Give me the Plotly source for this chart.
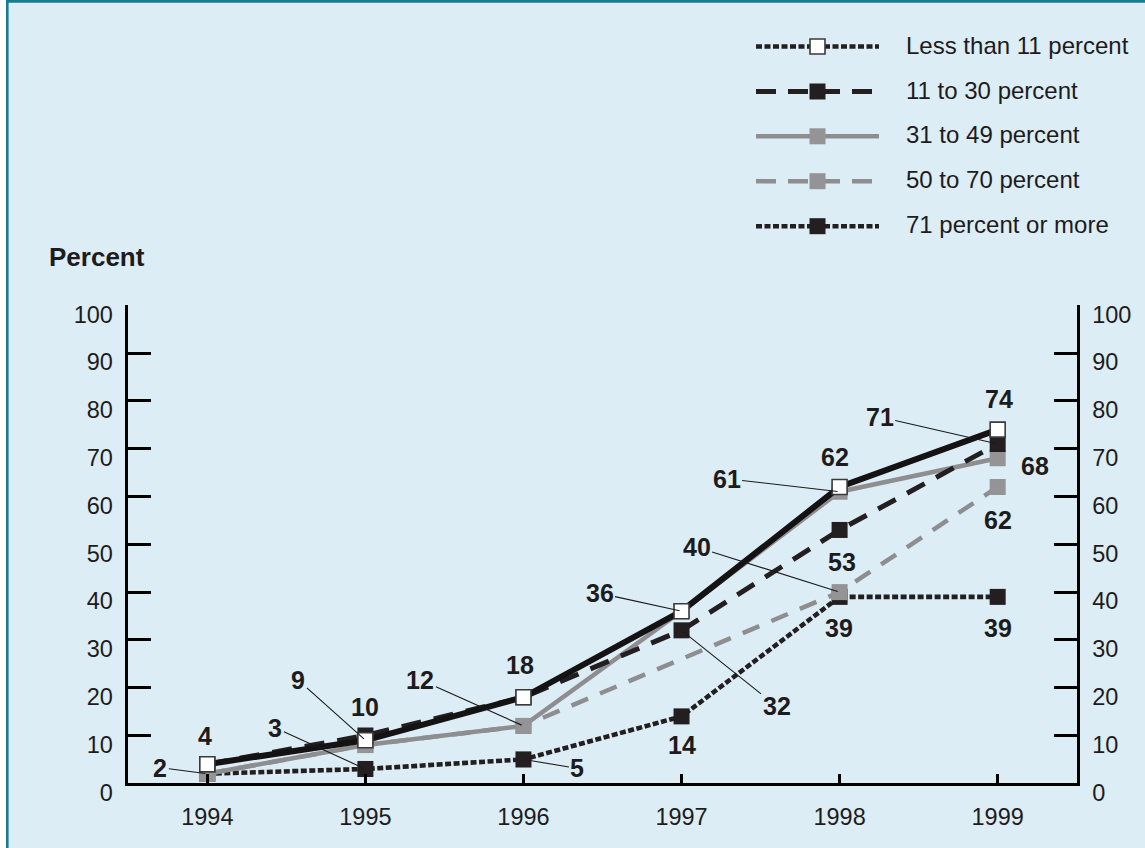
import plotly.graph_objects as go

# ---------------- data ----------------
years = [1994, 1995, 1996, 1997, 1998, 1999]
year_labels = ["1994", "1995", "1996", "1997", "1998", "1999"]
lt11 = [4, 9, 18, 36, 62, 74]            # Less than 11 percent
p11_30 = [4, 10, 18, 32, 53, 71]         # 11 to 30 percent
p31_49 = [2, 8, 12, 36, 61, 68]          # 31 to 49 percent
p50_70 = [2, 8, 12, None, 40, 62]        # 50 to 70 percent
p71_up = [2, 3, 5, 14, 39, 39]           # 71 percent or more
series_names = ["Less than 11 percent", "11 to 30 percent", "31 to 49 percent",
                "50 to 70 percent", "71 percent or more"]
y_tick_values = [0, 10, 20, 30, 40, 50, 60, 70, 80, 90, 100]
y_tick_labels = ["0", "10", "20", "30", "40", "50", "60", "70", "80", "90", "100"]

# ---------------- styles ----------------
W, H = 1145, 848
FONT = "Liberation Sans, Arial, Helvetica, sans-serif"
INK = "#1e1b1c"
BLACK = "#141213"
SQ_BLACK = "#231f20"
GREY_LINE = "#8e8e90"
GREY_SQ = "#949496"
BG = "#dcedf6"
TEAL = "#177c91"

styles = {
    "Less than 11 percent": dict(color=BLACK, width=6, dash="solid", mfill="white", mline=1.6),
    "11 to 30 percent": dict(color=SQ_BLACK, width=5, dash="20px,13px", mfill=SQ_BLACK, mline=0),
    "31 to 49 percent": dict(color=GREY_LINE, width=4.5, dash="solid", mfill=GREY_SQ, mline=0),
    "50 to 70 percent": dict(color=GREY_LINE, width=4.5, dash="18px,13px", mfill=GREY_SQ, mline=0),
    "71 percent or more": dict(color=SQ_BLACK, width=4.6, dash="6px,2.5px", mfill=SQ_BLACK, mline=0),
}
legend_styles = {
    "Less than 11 percent": dict(color=SQ_BLACK, width=4.6, dash="6px,2.5px", mfill="white", mline=1.6),
    "11 to 30 percent": dict(color=SQ_BLACK, width=5, dash="20px,12px", mfill=SQ_BLACK, mline=0),
    "31 to 49 percent": dict(color=GREY_LINE, width=4.5, dash="solid", mfill=GREY_SQ, mline=0),
    "50 to 70 percent": dict(color=GREY_LINE, width=4.5, dash="20px,12px", mfill=GREY_SQ, mline=0),
    "71 percent or more": dict(color=SQ_BLACK, width=4.6, dash="6px,2.5px", mfill=SQ_BLACK, mline=0),
}

# plot geometry in pixels
PX_L, PX_R = 128.3, 1076.7
PY_T, PY_B = 305.3, 783.3

fig = go.Figure()

series_data = {
    "Less than 11 percent": lt11,
    "11 to 30 percent": p11_30,
    "31 to 49 percent": p31_49,
    "50 to 70 percent": p50_70,
    "71 percent or more": p71_up,
}
draw_order = ["71 percent or more", "50 to 70 percent", "31 to 49 percent",
              "11 to 30 percent", "Less than 11 percent"]
for name in draw_order:
    s = styles[name]
    fig.add_trace(go.Scatter(
        x=years, y=series_data[name], name=name, mode="lines+markers",
        connectgaps=True, showlegend=False,
        line=dict(color=s["color"], width=s["width"], dash=s["dash"]),
        marker=dict(symbol="square", size=16 if s["mline"] == 0 else 15, color=s["mfill"],
                    line=dict(color="#3a3a3a", width=s["mline"])),
        xaxis="x", yaxis="y", hoverinfo="skip",
    ))

# invisible trace so that the right-hand axis is drawn
fig.add_trace(go.Scatter(x=years, y=lt11, mode="lines", opacity=0,
                         line=dict(width=0), xaxis="x", yaxis="y2",
                         showlegend=False, hoverinfo="skip"))

# ---------------- custom legend (pixel axes) ----------------
legend_rows_y = [46.5, 91.5, 136.3, 181.2, 226.2]
LEG_X0, LEG_XM, LEG_X1 = 756, 817.5, 879
for name, ry in zip(series_names, legend_rows_y):
    s = legend_styles[name]
    fig.add_trace(go.Scatter(
        x=[LEG_X0, LEG_XM, LEG_X1], y=[ry, ry, ry], mode="lines",
        line=dict(color=s["color"], width=s["width"], dash=s["dash"]),
        xaxis="x3", yaxis="y3", showlegend=False, hoverinfo="skip",
    ))
    fig.add_trace(go.Scatter(
        x=[LEG_XM], y=[ry], mode="markers",
        marker=dict(symbol="square", size=16 if s["mline"] == 0 else 15, color=s["mfill"],
                    line=dict(color="#3a3a3a", width=s["mline"])),
        xaxis="x3", yaxis="y3", showlegend=False, hoverinfo="skip",
    ))
    fig.add_annotation(x=904, y=ry - 1.5, xref="x3", yref="y3", text=name,
                       showarrow=False, xanchor="left", yanchor="middle",
                       font=dict(family=FONT, size=24, color=INK))

# ---------------- value labels ----------------
# (series, year index, dx, dy (screen px, down positive), leader line)
label_specs = [
    ("Less than 11 percent", 0, -2, -28, False),
    ("50 to 70 percent", 0, -47, -6, True),
    ("Less than 11 percent", 1, -67, -60, True),
    ("11 to 30 percent", 1, 0, -29, False),
    ("71 percent or more", 1, -90, -41, True),
    ("31 to 49 percent", 2, -103, -46, True),
    ("Less than 11 percent", 2, -3, -32, False),
    ("71 percent or more", 2, 54, 9, True),
    ("Less than 11 percent", 3, -82, -18, True),
    ("11 to 30 percent", 3, 95, 76, True),
    ("71 percent or more", 3, 0, 29, False),
    ("50 to 70 percent", 4, -143, -45, True),
    ("31 to 49 percent", 4, -113, -13, True),
    ("Less than 11 percent", 4, -5, -30, False),
    ("11 to 30 percent", 4, 2, 32, False),
    ("71 percent or more", 4, -1, 31, False),
    ("11 to 30 percent", 5, -118, -27, True),
    ("Less than 11 percent", 5, 1, -31, False),
    ("31 to 49 percent", 5, 37, 8, False),
    ("50 to 70 percent", 5, 0, 33, False),
    ("71 percent or more", 5, 0, 31, False),
]
label_font = dict(family=FONT, size=25, color=INK, weight="bold")
for name, i, dx, dy, leader in label_specs:
    v = series_data[name][i]
    if leader:
        fig.add_annotation(x=years[i], y=v, xref="x", yref="y", text=str(v),
                           showarrow=True, arrowhead=0, arrowwidth=1.1,
                           arrowcolor="#1a1a1a", ax=dx, ay=dy, standoff=2,
                           font=label_font)
    else:
        fig.add_annotation(x=years[i], y=v, xref="x", yref="y", text=str(v),
                           showarrow=False, xshift=dx, yshift=-dy,
                           font=label_font)

fig.add_annotation(x=97 / W, y=1 - 257 / H, xref="paper", yref="paper",
                   text="Percent", showarrow=False, xanchor="center", yanchor="middle",
                   font=dict(family=FONT, size=26, color=INK, weight="bold"))

# ---------------- frame ----------------
fig.add_shape(type="rect", xref="paper", yref="paper",
              x0=7.3 / W, x1=1.02, y0=-0.02, y1=1 - 1.4 / H,
              fillcolor=BG, line=dict(color=TEAL, width=2.6), layer="below")

axis_common = dict(showgrid=False, zeroline=False, showline=True, linecolor="black",
                   linewidth=2.5, ticks="inside", tickcolor="black", tickwidth=2.5,
                   tickfont=dict(family=FONT, size=23.5, color=INK), fixedrange=True,
                   automargin=False)

fig.update_layout(
    width=W, height=H,
    margin=dict(l=0, r=0, t=0, b=0, pad=0, autoexpand=False),
    title=None,
    paper_bgcolor="white",
    plot_bgcolor="rgba(0,0,0,0)",
    showlegend=False,
    xaxis=dict(domain=[PX_L / W, PX_R / W], range=[1993.5, 1999.5],
               tickmode="array", tickvals=years, ticktext=year_labels,
               ticklen=10, anchor="y", ticklabelstandoff=11, **axis_common),
    yaxis=dict(domain=[1 - PY_B / H, 1 - PY_T / H], range=[0, 100],
               tickmode="array", tickvals=y_tick_values, ticktext=y_tick_labels,
               ticklen=23, anchor="x", ticklabelshift=9, ticklabelstandoff=8,
               **axis_common),
    yaxis2=dict(domain=[1 - PY_B / H, 1 - PY_T / H], range=[0, 100], overlaying="y",
                side="right", anchor="x",
                tickmode="array", tickvals=y_tick_values, ticktext=y_tick_labels,
                ticklen=23, ticklabelshift=9, ticklabelstandoff=8, **axis_common),
    xaxis3=dict(domain=[0, 1], range=[0, W], visible=False, fixedrange=True, anchor="y3"),
    yaxis3=dict(domain=[0, 1], range=[H, 0], visible=False, fixedrange=True, anchor="x3"),
)

fig.write_html("out.html")
